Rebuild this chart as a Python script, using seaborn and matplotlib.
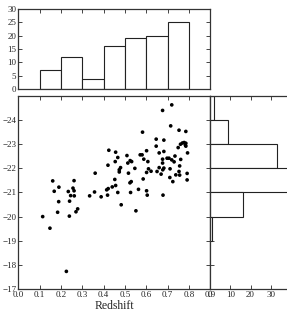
import numpy as np
import pandas as pd
import matplotlib
matplotlib.use("Agg")
import matplotlib.pyplot as plt
import seaborn as sns

# --- data ---
redshift = [0.114, 0.148, 0.161, 0.168, 0.190, 0.189, 0.184, 0.234, 0.240, 0.239,
            0.256, 0.261, 0.261, 0.245, 0.262, 0.270, 0.278, 0.334, 0.357, 0.360,
            0.388, 0.414, 0.418, 0.421, 0.424, 0.420, 0.440, 0.452, 0.456, 0.456,
            0.454, 0.466, 0.466, 0.473, 0.473, 0.479, 0.482, 0.509, 0.516, 0.513,
            0.524, 0.531, 0.529, 0.523, 0.526, 0.546, 0.551, 0.563, 0.571, 0.580,
            0.582, 0.585, 0.588, 0.601, 0.601, 0.601, 0.604, 0.607, 0.610, 0.622,
            0.646, 0.646, 0.650, 0.660, 0.660, 0.669, 0.676, 0.676, 0.676, 0.677,
            0.678, 0.682, 0.682, 0.682, 0.697, 0.706, 0.711, 0.714, 0.710, 0.719,
            0.719, 0.724, 0.730, 0.734, 0.738, 0.749, 0.753, 0.753, 0.756, 0.756,
            0.760, 0.761, 0.769, 0.777, 0.783, 0.785, 0.785, 0.785, 0.793, 0.791,
            0.791, 0.225]
magnitude = [-20.00, -19.52, -21.48, -21.05, -21.22, -20.62, -20.18, -21.04, -20.64, -20.02,
             -21.18, -21.49, -21.07, -20.87, -20.86, -20.20, -20.32, -20.86, -21.02, -21.80,
             -20.82, -21.11, -20.89, -21.16, -22.75, -22.13, -21.23, -21.54, -21.29, -22.67,
             -22.28, -22.45, -21.00, -21.85, -21.94, -22.03, -20.49, -22.53, -21.80, -22.22,
             -22.32, -22.28, -21.45, -21.40, -21.00, -22.00, -20.24, -21.13, -22.56, -22.56,
             -23.50, -21.56, -22.38, -22.73, -21.83, -21.07, -20.89, -22.28, -21.98, -21.88,
             -23.21, -22.92, -21.87, -22.64, -22.03, -21.76, -24.40, -22.38, -22.22, -21.94,
             -20.89, -23.17, -22.70, -22.01, -22.42, -22.42, -21.98, -23.76, -21.62, -24.63,
             -22.35, -21.45, -22.27, -22.51, -21.73, -22.86, -23.58, -21.87, -22.10, -21.72,
             -23.00, -22.37, -23.05, -23.07, -22.96, -23.53, -23.04, -22.92, -22.64, -21.79,
             -21.52, -17.73]

z_bin_edges = [0.1, 0.2, 0.3, 0.4, 0.5, 0.6, 0.7, 0.8]
z_counts = [7, 12, 4, 16, 19, 20, 25]

m_bin_edges = [-25, -24, -23, -22, -21, -20, -19]
m_counts = [2, 9, 33, 41, 16, 1]

x_ticks = [0.0, 0.1, 0.2, 0.3, 0.4, 0.5, 0.6, 0.7, 0.8, 0.9]
y_ticks = [-24, -23, -22, -21, -20, -19, -18, -17]
top_y_ticks = [0, 5, 10, 15, 20, 25, 30]
right_x_ticks = [0, 10, 20, 30]

# --- style ---
sns.set_style("ticks")
plt.rcParams['font.family'] = ['Liberation Serif', 'DejaVu Serif']
plt.rcParams['axes.unicode_minus'] = True
plt.rcParams['xtick.direction'] = 'in'
plt.rcParams['ytick.direction'] = 'in'
plt.rcParams['xtick.top'] = True
plt.rcParams['ytick.right'] = True
plt.rcParams['xtick.major.size'] = 3
plt.rcParams['ytick.major.size'] = 3
plt.rcParams['xtick.major.width'] = 0.6
plt.rcParams['ytick.major.width'] = 0.6
plt.rcParams['axes.linewidth'] = 0.9
plt.rcParams['axes.edgecolor'] = '#333333'
plt.rcParams['xtick.labelsize'] = 6.5
plt.rcParams['ytick.labelsize'] = 6.5
plt.rcParams['xtick.major.pad'] = 1.5
plt.rcParams['ytick.major.pad'] = 1.5

fig = plt.figure(figsize=(2.87, 3.22), dpi=100)
L, R = 0.064, 0.733
B, T = 0.1025, 0.702
ax_main = fig.add_axes([L, B, R - L, T - B])
ax_top = fig.add_axes([L, 0.723, R - L, 0.972 - 0.723])
ax_right = fig.add_axes([R, B, 0.35, T - B])

df = pd.DataFrame({"Redshift": redshift, "Magnitude": magnitude})
sns.scatterplot(data=df, x="Redshift", y="Magnitude", ax=ax_main,
                color='black', s=7, edgecolor='none', linewidth=0)
ax_main.set_xlim(0, 0.9)
ax_main.set_ylim(-17, -25)
ax_main.set_xticks(x_ticks)
ax_main.set_yticks(y_ticks)
ax_main.set_xlabel("Redshift", fontsize=8.5, labelpad=1)
ax_main.set_ylabel("")

# top histogram
zc = [(a + b) / 2 for a, b in zip(z_bin_edges[:-1], z_bin_edges[1:])]
sns.histplot(x=zc, weights=z_counts, bins=z_bin_edges, ax=ax_top,
             color='white', edgecolor='#222222', linewidth=0.8, alpha=1)
ax_top.set_xlim(0, 0.9)
ax_top.set_ylim(0, 30)
ax_top.set_xticks(x_ticks[1:])
ax_top.set_xticklabels([])
ax_top.set_yticks(top_y_ticks)
ax_top.set_ylabel("")

# right histogram
mc = [(a + b) / 2 for a, b in zip(m_bin_edges[:-1], m_bin_edges[1:])]
sns.histplot(y=mc, weights=m_counts, bins=m_bin_edges, ax=ax_right,
             color='white', edgecolor='#222222', linewidth=0.8, alpha=1)
ax_right.set_ylim(-17, -25)
ax_right.set_yticks(y_ticks)
ax_right.set_yticklabels([])
ax_right.set_xlim(0, 50)
ax_right.set_xticks(right_x_ticks)
ax_right.set_xlabel("")
ax_right.set_ylabel("")

for ax in (ax_main, ax_top, ax_right):
    for s in ax.spines.values():
        s.set_visible(True)

fig.savefig("out.png", dpi=100)
